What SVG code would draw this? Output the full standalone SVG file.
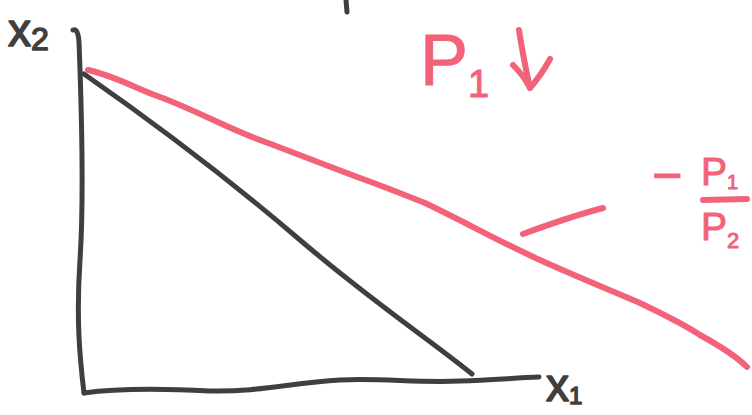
<svg xmlns="http://www.w3.org/2000/svg" width="752" height="415" viewBox="0 0 752 415">
<style>
.k{fill:none;stroke:#3f3f3f;stroke-width:5;stroke-linecap:round;stroke-linejoin:round}
.r{fill:none;stroke:#f2637a;stroke-width:6;stroke-linecap:round;stroke-linejoin:round}
.tk{font-family:"Liberation Sans",Arial,sans-serif;fill:#3f3f3f;stroke:#3f3f3f;stroke-width:1.5;stroke-linejoin:round}
.tr{font-family:"Liberation Sans",Arial,sans-serif;fill:#f2637a;stroke:#f2637a;stroke-width:1;stroke-linejoin:round}
</style>
<rect width="752" height="415" fill="#ffffff"/>
<g id="axes">
<path class="k" d="M346,0 L347,12"/>
<path class="k" d="M73,30 Q78,28 79,42 C82,120 84,200 80,260 C76,320 80,360 84,393"/>
<path class="k" d="M84,393 C120,388 170,389 210,391 C260,392 290,383 340,380 C380,378 420,383 460,381 C490,380 515,378 539,377"/>
</g>
<g id="budget-lines">
<path class="k" d="M84,74 C150,120 230,180 300,240 C370,300 430,340 472,374"/>
<path class="r" d="M88,70 C115,76 135,88 160,97 C195,110 225,127 260,140 C295,153 330,167 360,178 C385,187 405,195 425,203 C465,222 500,242 540,260 C575,276 610,290 640,303 C665,315 685,325 700,335 C720,346 735,355 747,367"/>
<path class="r" d="M523,234 C550,224 580,214 603,208"/>
</g>
<g id="labels">
<text class="tk" x="8" y="46" font-size="46">x<tspan font-size="32" dy="4">2</tspan></text>
<text class="tk" x="546" y="401" font-size="46">x<tspan font-size="24" dy="3">1</tspan></text>
<text class="tr" x="420" y="85" font-size="72">P<tspan font-size="38" dy="12">1</tspan></text>
<path class="r" d="M519,30 C522,50 526,70 530,88"/>
<path class="r" d="M513,65 C520,72 526,80 530,88 C537,80 544,70 550,59"/>
<text class="tr" x="652" y="193" font-size="52">−</text>
<text class="tr" x="701" y="185" font-size="39">P<tspan font-size="20" dy="4">1</tspan></text>
<path class="r" d="M703,200 L747,199"/>
<text class="tr" x="701" y="240" font-size="39">P<tspan font-size="22" dy="8">2</tspan></text>
</g>
</svg>
